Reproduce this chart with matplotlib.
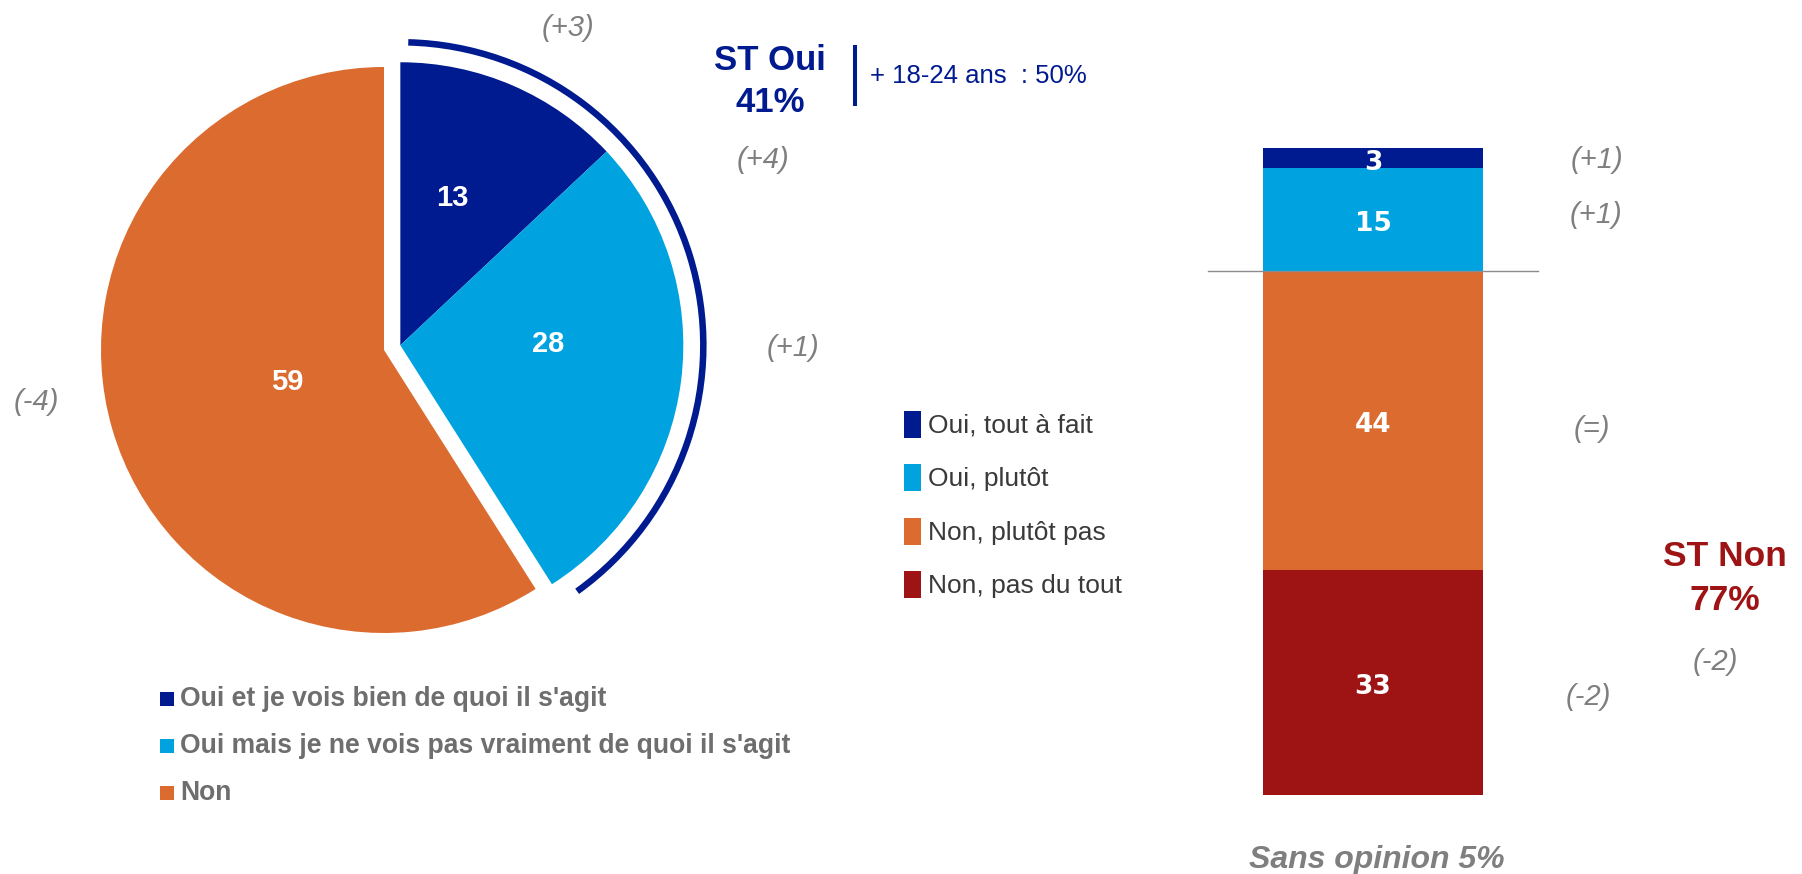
import numpy as np
import matplotlib
matplotlib.use("Agg")
import matplotlib.pyplot as plt
from matplotlib.patches import Arc, Rectangle

plt.rcParams["font.family"] = ["Liberation Sans", "DejaVu Sans"]

# ---- data ---------------------------------------------------------------
pie_labels = ["Oui et je vois bien de quoi il s'agit",
              "Oui mais je ne vois pas vraiment de quoi il s'agit",
              "Non"]
pie_values = [13, 28, 59]
pie_changes = ["(+3)", "(+1)", "(-4)"]
st_oui_label = "ST Oui"
st_oui_change = "(+4)"
st_oui_note = "+ 18-24 ans  : 50%"

bar_labels = ["Oui, tout à fait", "Oui, plutôt", "Non, plutôt pas", "Non, pas du tout"]
bar_values = [3, 15, 44, 33]
bar_changes = ["(+1)", "(+1)", "(=)", "(-2)"]
st_non_label = "ST Non"
st_non_change = "(-2)"
no_opinion = 5

# ---- style --------------------------------------------------------------
NAVY = "#001A8F"
SKY = "#00A3E0"
ORANGE = "#DC6B2F"
DARKRED = "#9E1414"
GREY = "#7F7F7F"
LEG_GREY = "#6E6E6E"
DARK = "#3A3A3A"
pie_colors = [NAVY, SKY, ORANGE]
bar_colors = [NAVY, SKY, ORANGE, DARKRED]

W, H = 1802, 874
fig = plt.figure(figsize=(W / 100, H / 100), dpi=100)
ax = fig.add_axes([0, 0, 1, 1])


def Y(y):
    """Pixel row measured from the top -> data y (origin at the bottom)."""
    return H - y


# ---- pie ----------------------------------------------------------------
cx, cy, R = 384, Y(350), 283
wedges, _ = ax.pie(pie_values, colors=pie_colors, startangle=90,
                   counterclock=False, center=(cx, cy), radius=R,
                   wedgeprops=dict(linewidth=0))
ax.set_xlim(0, W)
ax.set_ylim(0, H)
ax.set_aspect("auto")
ax.axis("off")

# pull the two "Oui" slices out together along their common bisector
oui_share = sum(pie_values[:2]) / sum(pie_values)
mid = np.deg2rad(90 - oui_share * 180)
shift = 17
ocx, ocy = cx + shift * np.cos(mid), cy + shift * np.sin(mid)
for w in wedges[:2]:
    w.set_center((ocx, ocy))

# bracket arc around the "Oui" group
ax.add_patch(Arc((ocx, ocy), 2 * 303, 2 * 303,
                 theta1=90 - oui_share * 360 + 3.3, theta2=88.5,
                 lw=4.7, color=NAVY, capstyle="butt"))

# values inside slices
pie_label_pos = [(452, 198), (548, 344), (287, 382)]
for v, (x, y) in zip(pie_values, pie_label_pos):
    ax.text(x, Y(y), str(v), color="white", fontsize=21, fontweight="bold",
            ha="center", va="center")

# evolutions around the pie
pie_change_pos = [(568, 28), (793, 348), (36, 402)]
for t, (x, y) in zip(pie_changes, pie_change_pos):
    ax.text(x, Y(y), t, color=GREY, fontsize=21, style="italic",
            ha="center", va="center")

# ST Oui block
ax.text(770, Y(60), st_oui_label, color=NAVY, fontsize=25, fontweight="bold",
        ha="center", va="center")
ax.text(770, Y(103), f"{sum(pie_values[:2])}%", color=NAVY, fontsize=25,
        fontweight="bold", ha="center", va="center")
ax.text(763, Y(160), st_oui_change, color=GREY, fontsize=21, style="italic",
        ha="center", va="center")
ax.plot([855, 855], [Y(45), Y(106)], color=NAVY, lw=2.9, solid_capstyle="butt")
ax.text(870, Y(76), st_oui_note, color=NAVY, fontsize=18.5,
        ha="left", va="center")

# pie legend
for i, (lab, col) in enumerate(zip(pie_labels, pie_colors)):
    yc = 699 + i * 47
    ax.add_patch(Rectangle((160, Y(yc) - 7), 14, 14, color=col, lw=0))
    ax.text(180, Y(yc), lab, color=LEG_GREY, fontsize=19.1, fontweight="bold",
            ha="left", va="center")

# ---- stacked bar --------------------------------------------------------
bx0, bx1, by0, by1 = 1263, 1483, 148, 795
bax = fig.add_axes([bx0 / W, (H - by1) / H, (bx1 - bx0) / W, (by1 - by0) / H])
total = sum(bar_values)
bottom = 0
for v, col in zip(bar_values, bar_colors):
    bax.bar(0, v, bottom=bottom, width=1, color=col, linewidth=0)
    bax.annotate(str(v), (0, bottom + v / 2), xytext=(0, -3.5),
                 textcoords="offset points", color="white", fontsize=19,
                 fontweight="bold", family="DejaVu Sans", ha="center",
                 va="center")
    bottom += v
bax.set_xlim(-0.5, 0.5)
bax.set_ylim(total, 0)
bax.axis("off")

# divider between Oui and Non
bax.axhline(sum(bar_values[:2]), xmin=-0.25, xmax=1.25, color="#8C8C8C",
            lw=1, clip_on=False, zorder=5)

# evolutions next to the bar
bar_change_pos = [(1597, 160), (1596, 215), (1592, 429), (1588, 697)]
for t, (x, y) in zip(bar_changes, bar_change_pos):
    ax.text(x, Y(y), t, color=GREY, fontsize=21, style="italic",
            ha="center", va="center")

# ST Non block
ax.text(1725, Y(556), st_non_label, color=DARKRED, fontsize=25.5,
        fontweight="bold", ha="center", va="center")
ax.text(1725, Y(601), f"{sum(bar_values[2:])}%", color=DARKRED, fontsize=25.5,
        fontweight="bold", ha="center", va="center")
ax.text(1715, Y(662), st_non_change, color=GREY, fontsize=21, style="italic",
        ha="center", va="center")

ax.text(1377, Y(860), f"Sans opinion {no_opinion}%", color=GREY, fontsize=23,
        fontweight="bold", style="italic", ha="center", va="center")

# bar legend
for i, (lab, col) in enumerate(zip(bar_labels, bar_colors)):
    yc = [424, 477, 531, 584][i]
    ax.add_patch(Rectangle((904, Y(yc) - 13.5), 17, 27, color=col, lw=0))
    ax.text(928, Y(yc + 2), lab, color=DARK, fontsize=19, ha="left",
            va="center")

fig.savefig("out.png", dpi=100)
